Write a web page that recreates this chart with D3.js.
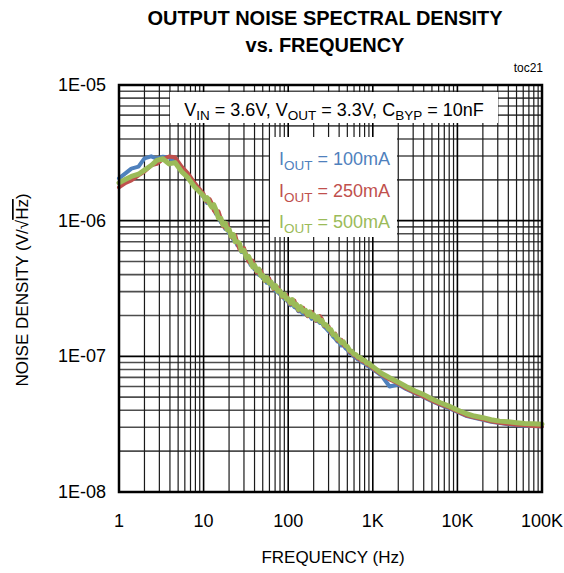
<!DOCTYPE html>
<html>
<head>
<meta charset="utf-8">
<script src="https://cdn.jsdelivr.net/npm/d3@7"></script>
<style>
  html, body { margin: 0; padding: 0; background: #fff; }
  svg { display: block; font-family: "Liberation Sans", Arial, sans-serif; }
</style>
</head>
<body>
<svg id="chart" width="564" height="573"></svg>
<script>
// ---- data ----
const freq = [1,1.2,1.4,1.7,2,2.4,2.8,3.3,3.9,4.6,5.5,6.5,7.8,
  10,10.5,11,11.8,12.5,13.2,14,15,16,17,18,19,20,21.2,22.5,23.7,25,26.5,28,30,
  32,34,36,38,40,42.5,45,47.5,50,53,56,59.5,63,67,71,75,80,85,90,95,
  100,106,112,118,125,132,140,150,160,170,180,190,200,212,225,237,250,265,280,300,
  320,340,360,380,400,425,450,475,500,530,560,595,630,670,710,750,800,850,900,950,
  1000,1260,1580,2000,2500,3160,4000,5000,6300,7940,
  10000,12600,15800,20000,25100,31600,39800,50100,63100,79400,100000];

const noise100mA = [2.05e-6,2.24e-6,2.42e-6,2.50e-6,2.88e-6,2.98e-6,2.86e-6,2.96e-6,2.92e-6,2.74e-6,2.44e-6,2.15e-6,1.88e-6,
  1.49e-6,1.47e-6,1.35e-6,1.37e-6,1.27e-6,1.24e-6,1.12e-6,1.09e-6,0.97e-6,0.97e-6,0.868e-6,0.875e-6,0.806e-6,0.792e-6,0.720e-6,0.720e-6,0.658e-6,0.644e-6,0.587e-6,0.588e-6,
  0.536e-6,0.515e-6,0.471e-6,0.470e-6,0.438e-6,0.428e-6,0.398e-6,0.401e-6,0.376e-6,0.368e-6,0.348e-6,0.347e-6,0.328e-6,0.323e-6,0.303e-6,0.299e-6,0.286e-6,0.282e-6,0.265e-6,0.262e-6,
  0.251e-6,0.238e-6,0.244e-6,0.231e-6,0.228e-6,0.215e-6,0.216e-6,0.206e-6,0.206e-6,0.198e-6,0.199e-6,0.189e-6,0.192e-6,0.183e-6,0.183e-6,0.176e-6,0.177e-6,0.166e-6,0.161e-6,0.153e-6,
  0.148e-6,0.140e-6,0.135e-6,0.129e-6,0.127e-6,0.120e-6,0.121e-6,0.115e-6,0.112e-6,0.106e-6,0.104e-6,0.0998e-6,0.0979e-6,0.0945e-6,0.0933e-6,0.0903e-6,0.0887e-6,0.0855e-6,0.0844e-6,0.0823e-6,
  8.05e-8,7.25e-8,6.0e-8,6.2e-8,5.72e-8,5.35e-8,5.0e-8,4.68e-8,4.38e-8,4.15e-8,
  3.90e-8,3.65e-8,3.52e-8,3.40e-8,3.29e-8,3.22e-8,3.16e-8,3.11e-8,3.08e-8,3.06e-8,3.04e-8];

const noise250mA = [1.76e-6,1.90e-6,1.98e-6,2.16e-6,2.30e-6,2.56e-6,2.62e-6,2.84e-6,2.97e-6,2.93e-6,2.50e-6,2.24e-6,1.90e-6,
  1.57e-6,1.41e-6,1.38e-6,1.44e-6,1.34e-6,1.19e-6,1.14e-6,1.17e-6,1.03e-6,0.912e-6,0.887e-6,0.945e-6,0.848e-6,0.760e-6,0.743e-6,0.778e-6,0.685e-6,0.618e-6,0.618e-6,0.629e-6,
  0.558e-6,0.499e-6,0.486e-6,0.508e-6,0.461e-6,0.415e-6,0.411e-6,0.429e-6,0.392e-6,0.360e-6,0.362e-6,0.375e-6,0.342e-6,0.314e-6,0.316e-6,0.323e-6,0.295e-6,0.274e-6,0.276e-6,0.284e-6,
  0.256e-6,0.243e-6,0.252e-6,0.258e-6,0.233e-6,0.218e-6,0.223e-6,0.228e-6,0.208e-6,0.198e-6,0.205e-6,0.213e-6,0.194e-6,0.183e-6,0.189e-6,0.198e-6,0.189e-6,0.168e-6,0.166e-6,0.166e-6,
  0.149e-6,0.144e-6,0.147e-6,0.132e-6,0.129e-6,0.132e-6,0.121e-6,0.119e-6,0.117e-6,0.108e-6,0.106e-6,0.102e-6,0.100e-6,0.0965e-6,0.0943e-6,0.0922e-6,0.0906e-6,0.0873e-6,0.0861e-6,0.0840e-6,
  8.15e-8,7.35e-8,6.75e-8,6.30e-8,5.80e-8,5.40e-8,5.05e-8,4.72e-8,4.42e-8,4.20e-8,
  3.93e-8,3.68e-8,3.55e-8,3.43e-8,3.32e-8,3.24e-8,3.18e-8,3.13e-8,3.10e-8,3.07e-8,3.05e-8];

const noise500mA = [1.90e-6,2.02e-6,2.12e-6,2.20e-6,2.36e-6,2.55e-6,2.78e-6,2.86e-6,2.62e-6,2.68e-6,2.30e-6,2.08e-6,1.78e-6,
  1.52e-6,1.43e-6,1.48e-6,1.33e-6,1.26e-6,1.31e-6,1.20e-6,1.04e-6,1.04e-6,0.93e-6,0.96e-6,0.858e-6,0.865e-6,0.768e-6,0.788e-6,0.698e-6,0.699e-6,0.683e-6,0.599e-6,0.606e-6,
  0.536e-6,0.546e-6,0.501e-6,0.456e-6,0.470e-6,0.428e-6,0.440e-6,0.393e-6,0.396e-6,0.364e-6,0.381e-6,0.347e-6,0.352e-6,0.320e-6,0.332e-6,0.302e-6,0.304e-6,0.279e-6,0.287e-6,0.265e-6,
  0.266e-6,0.248e-6,0.262e-6,0.238e-6,0.242e-6,0.222e-6,0.232e-6,0.215e-6,0.218e-6,0.202e-6,0.213e-6,0.197e-6,0.202e-6,0.187e-6,0.195e-6,0.181e-6,0.184e-6,0.170e-6,0.171e-6,0.159e-6,
  0.157e-6,0.144e-6,0.144e-6,0.135e-6,0.133e-6,0.126e-6,0.128e-6,0.120e-6,0.118e-6,0.111e-6,0.109e-6,0.104e-6,0.103e-6,0.0985e-6,0.0982e-6,0.0941e-6,0.0933e-6,0.0891e-6,0.0888e-6,0.0857e-6,
  8.4e-8,7.5e-8,6.95e-8,6.45e-8,5.97e-8,5.55e-8,5.22e-8,4.85e-8,4.55e-8,4.30e-8,
  4.02e-8,3.79e-8,3.63e-8,3.53e-8,3.41e-8,3.33e-8,3.29e-8,3.24e-8,3.20e-8,3.18e-8,3.16e-8];

const xTickValues = [1,10,100,1000,10000,100000];
const xTickLabels = ["1","10","100","1K","10K","100K"];
const yTickValues = [1e-5,1e-6,1e-7,1e-8];
const yTickLabels = ["1E-05","1E-06","1E-07","1E-08"];
const seriesNames = ["100mA","250mA","500mA"];
const seriesColors = ["#4F81BD","#C0504D","#9BBB59"];

// ---- layout ----
const svg = d3.select("#chart");
const L = 119, R = 542, T = 85, B = 492;
const x = d3.scaleLog().domain([1, 100000]).range([L, R]);
const y = d3.scaleLog().domain([1e-8, 1e-5]).range([B, T]);

// grid
const g = svg.append("g");
const xMinor = [], yMinor = [];
for (let d = 1; d < 100000; d *= 10) for (let k = 2; k <= 9; k++) xMinor.push(d * k);
for (let d = 1e-8; d < 1e-5 * 0.999; d *= 10) for (let k = 2; k <= 9; k++) yMinor.push(d * k);

g.selectAll(".ym").data(yMinor).join("line")
  .attr("x1", L).attr("x2", R).attr("y1", d => y(d)).attr("y2", d => y(d))
  .attr("stroke", "#4d4d4d").attr("stroke-width", 1.6);
g.selectAll(".xm").data(xMinor).join("line")
  .attr("y1", T).attr("y2", B).attr("x1", d => x(d)).attr("x2", d => x(d))
  .attr("stroke", "#1a1a1a").attr("stroke-width", 1.2);
g.selectAll(".yM").data(yTickValues).join("line")
  .attr("x1", L).attr("x2", R).attr("y1", d => y(d)).attr("y2", d => y(d))
  .attr("stroke", "#000").attr("stroke-width", 1.6);
g.selectAll(".xM").data(xTickValues).join("line")
  .attr("y1", T).attr("y2", B).attr("x1", d => x(d)).attr("x2", d => x(d))
  .attr("stroke", "#000").attr("stroke-width", 1.6);

// curves
const seriesData = [noise100mA, noise250mA, noise500mA];
const line = d3.line().x(d => x(d[0])).y(d => y(d[1])).curve(d3.curveLinear);
const widths = [4, 4, 5];
seriesData.forEach((vals, i) => {
  svg.append("path")
    .datum(freq.map((f, j) => [f, vals[j]]))
    .attr("d", line)
    .attr("fill", "none")
    .attr("stroke", seriesColors[i])
    .attr("stroke-width", widths[i])
    .attr("stroke-linejoin", "round")
    .attr("stroke-linecap", "round");
});

// annotation box
svg.append("rect").attr("x", 170).attr("y", 92).attr("width", 328).attr("height", 31).attr("fill", "#fff");
const ann = svg.append("text").attr("x", 334).attr("y", 116).attr("text-anchor", "middle")
  .attr("font-size", 18).attr("fill", "#000");
const annParts = [["V",0],["IN",1],[" = 3.6V, V",0],["OUT",1],[" = 3.3V, C",0],["BYP",1],[" = 10nF",0]];
annParts.forEach(([t, sub], i) => {
  const prevSub = i > 0 ? annParts[i-1][1] : 0;
  ann.append("tspan").text(t).attr("font-size", sub ? 13.5 : 18)
    .attr("dy", sub && !prevSub ? 4 : (!sub && prevSub ? -4 : 0));
});

// legend box
svg.append("rect").attr("x", 270).attr("y", 137).attr("width", 127).attr("height", 100).attr("fill", "#fff");
seriesNames.forEach((n, i) => {
  const t = svg.append("text").attr("x", 279).attr("y", 165 + i * 31.5)
    .attr("font-size", 18).attr("fill", seriesColors[i]);
  t.append("tspan").text("I");
  t.append("tspan").text("OUT").attr("font-size", 13.5).attr("dy", 5);
  t.append("tspan").text(" = " + n).attr("dy", -5);
});

// frame
svg.append("rect").attr("x", L).attr("y", T).attr("width", R - L).attr("height", B - T)
  .attr("fill", "none").attr("stroke", "#000").attr("stroke-width", 2.5);

// tick labels
svg.selectAll(".xl").data(xTickValues).join("text")
  .attr("x", d => x(d)).attr("y", 527).attr("text-anchor", "middle")
  .attr("font-size", 18).text((d, i) => xTickLabels[i]);
svg.selectAll(".yl").data(yTickValues).join("text")
  .attr("x", 106).attr("y", d => y(d) + 6).attr("text-anchor", "end")
  .attr("font-size", 18).text((d, i) => yTickLabels[i]);

// axis titles
svg.append("text").attr("x", 333).attr("y", 563).attr("text-anchor", "middle")
  .attr("font-size", 17).text("FREQUENCY (Hz)");
const yt = svg.append("text").attr("transform", "translate(28,290) rotate(-90)")
  .attr("text-anchor", "middle").attr("font-size", 17);
yt.append("tspan").text("NOISE DENSITY (V/√");
yt.append("tspan").text("Hz").style("text-decoration", "overline");
yt.append("tspan").text(")");

// title
svg.append("text").attr("x", 325).attr("y", 25).attr("text-anchor", "middle")
  .attr("font-size", 20).attr("font-weight", "bold").text("OUTPUT NOISE SPECTRAL DENSITY");
svg.append("text").attr("x", 325).attr("y", 52).attr("text-anchor", "middle")
  .attr("font-size", 20).attr("font-weight", "bold").text("vs. FREQUENCY");
svg.append("text").attr("x", 543).attr("y", 72).attr("text-anchor", "end")
  .attr("font-size", 12).text("toc21");
</script>
</body>
</html>
